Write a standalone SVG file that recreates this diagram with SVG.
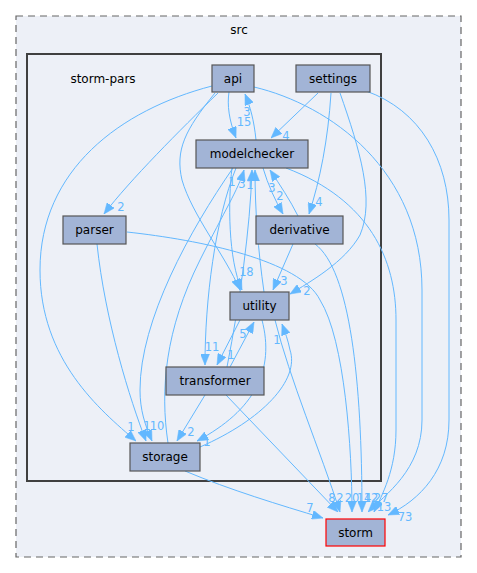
<svg xmlns="http://www.w3.org/2000/svg" width="477" height="573" viewBox="0 0 477 573">
<style>
.cl{fill:#edf0f7}
.node rect{fill:#a2b4d6;stroke:#555;stroke-width:1.2}
.node text{font-family:"DejaVu Sans",sans-serif;font-size:12px;fill:#000;text-anchor:middle}
.ct{font-family:"DejaVu Sans",sans-serif;font-size:12px;fill:#000;text-anchor:middle}
#edges path{fill:none;stroke:#63b8ff;stroke-width:1;marker-end:url(#ah)}
#edges text{font-family:"DejaVu Sans",sans-serif;font-size:11.5px;fill:#63b8ff;text-anchor:middle}
</style>
<defs>
<marker id="ah" viewBox="0 0 11 9" refX="11" refY="4.5" markerWidth="11" markerHeight="9" markerUnits="userSpaceOnUse" orient="auto">
<path d="M0,0 L11,4.5 L0,9 Z" fill="#63b8ff" stroke="#63b8ff" stroke-width="0.5"/>
</marker>
</defs>
<rect width="477" height="573" fill="#fff"/>
<g id="cluster_src">
<rect class="cl" x="16" y="16" width="445" height="541" stroke="#666" stroke-width="1.2" stroke-dasharray="7,5"/>
<text class="ct" x="239" y="34">src</text>
</g>
<g id="cluster_storm-pars">
<rect class="cl" x="27" y="54" width="354" height="427" stroke="#404040" stroke-width="2"/>
<text class="ct" x="103" y="83">storm-pars</text>
</g>
<g id="edges">
<path d="M229,92 C227,105 229,120 236,138"/><text x="244" y="126">15</text>
<path d="M256,140 C254,120 250,106 245,94"/><text x="247" y="116">3</text>
<path d="M318,93 L271,138"/><text x="286" y="140">4</text>
<path d="M218,93 C180,130 130,180 104,214"/><text x="121" y="211">2</text>
<path d="M212,86 C120,110 40,170 40,270 C40,360 100,410 136,441"/><text x="131" y="431">1</text>
<path d="M215,93 C185,130 175,150 182,180 C192,215 225,255 240,290"/><text x="243" y="276">1</text>
<path d="M232,168 C228,200 228,260 242,290"/><text x="250" y="276">8</text>
<path d="M254,87 C330,105 422,170 422,290 L422,420 C422,470 385,495 368,512"/>
<path d="M331,93 C328,140 320,180 309,214"/><text x="319" y="206">4</text>
<path d="M340,93 C360,150 375,200 360,235 C345,262 310,282 290,294"/><text x="307" y="295">2</text>
<path d="M366,91 C420,110 449,160 449,220 L449,420 C449,470 420,500 388,515"/><text x="405" y="521">73</text>
<path d="M263,168 C268,185 275,200 283,214"/><text x="280" y="200">2</text>
<path d="M298,216 C290,200 280,185 270,170"/><text x="272" y="192">3</text>
<path d="M293,244 L273,290"/><text x="284" y="285">3</text>
<path d="M315,244 C350,270 362,380 362,512"/>
<path d="M97,244 C105,320 130,400 146,441"/><text x="147" y="430">1</text>
<path d="M127,232 C200,240 300,260 320,300 C345,340 352,450 352,512"/>
<path d="M236,168 C215,220 205,300 205,365"/><text x="212" y="351">11</text>
<path d="M233,168 C190,230 140,320 140,390 C140,410 145,425 152,441"/><text x="157" y="430">10</text>
<path d="M168,443 C160,390 165,330 200,260 C225,210 238,190 244,170"/><text x="232" y="186">1</text>
<path d="M227,367 C240,300 250,230 252,170"/><text x="242" y="188">3</text>
<path d="M264,292 C258,250 255,210 255,170"/><text x="250" y="189">1</text>
<path d="M240,320 L217,365"/><text x="231" y="359">1</text>
<path d="M230,367 L254,322"/><text x="243" y="338">5</text>
<path d="M205,395 L177,441"/><text x="191" y="436">2</text>
<path d="M262,320 C275,370 255,410 197,441"/><text x="207" y="446">1</text>
<path d="M200,447 C262,420 300,380 290,350 C288,340 285,332 282,324"/><text x="277" y="344">1</text>
<path d="M275,320 C290,380 320,450 340,512"/>
<path d="M226,395 L338,512"/>
<path d="M286,168 C370,200 396,260 396,320 L396,430 C396,470 382,495 374,512"/>
<path d="M185,471 C230,490 280,505 323,518"/><text x="310" y="512">7</text>
<text x="332" y="502">8</text><text x="340" y="502">2</text><text x="352" y="502">20</text><text x="364" y="502">14</text><text x="371" y="502">12</text><text x="381" y="502">27</text><text x="384" y="511">13</text>
</g>
<g id="node_api" class="node"><rect x="212" y="65" width="42" height="27"/><text x="233" y="83">api</text></g>
<g id="node_settings" class="node"><rect x="296" y="65" width="74" height="27"/><text x="333" y="83">settings</text></g>
<g id="node_modelchecker" class="node"><rect x="196" y="140" width="112" height="28"/><text x="252" y="158">modelchecker</text></g>
<g id="node_parser" class="node"><rect x="63" y="216" width="63" height="28"/><text x="94.5" y="234">parser</text></g>
<g id="node_derivative" class="node"><rect x="256" y="216" width="87" height="28"/><text x="299.5" y="234">derivative</text></g>
<g id="node_utility" class="node"><rect x="230" y="292" width="59" height="28"/><text x="259.5" y="310">utility</text></g>
<g id="node_transformer" class="node"><rect x="166" y="367" width="98" height="28"/><text x="215" y="385">transformer</text></g>
<g id="node_storage" class="node"><rect x="130" y="443" width="70" height="28"/><text x="165" y="461">storage</text></g>
<g id="node_storm" class="node"><rect x="326" y="519" width="59" height="27" style="stroke:#ff0000"/><text x="355.5" y="537">storm</text></g>
</svg>
